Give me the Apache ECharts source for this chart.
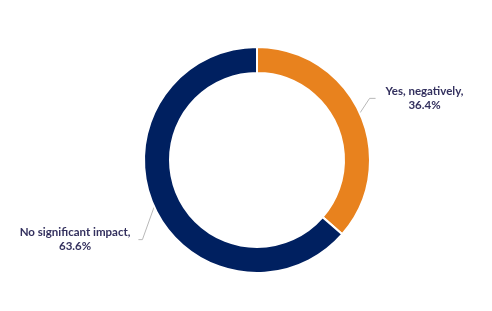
<!DOCTYPE html>
<html>
<head>
<meta charset="utf-8">
<script src="https://cdn.jsdelivr.net/npm/echarts@6/dist/echarts.min.js"></script>
<style>html,body{margin:0;padding:0;background:#fff}#c{width:492px;height:311px}</style>
</head>
<body>
<div id="c"></div>
<script>
var categories = ["Yes, negatively", "No significant impact"];
var values = [36.4, 63.6];
var colors = ["#E8821E", "#002060"];
var labelShift = [[2, -9], [0, 27]];

var chart = echarts.init(document.getElementById('c'));
chart.setOption({
  animation: false,
  series: [{
    type: 'pie',
    center: [257, 160],
    radius: [87, 113],
    startAngle: 90,
    clockwise: true,
    data: categories.map(function (c, i) {
      return { name: c, value: values[i], itemStyle: { color: colors[i] } };
    }),
    itemStyle: { borderColor: '#fff', borderWidth: 2 },
    label: {
      show: true,
      position: 'outside',
      formatter: function (p) { return '{t|' + p.name + ',}\n{t|' + p.value.toFixed(1) + '%}'; },
      rich: {
        t: { fontFamily: 'Lato', fontWeight: 'bold', fontSize: 11.5, color: '#33305E', align: 'center', lineHeight: 14 }
      }
    },
    labelLine: { show: true, length: 14, length2: 6, lineStyle: { color: '#B8B8B8', width: 1 } },
    labelLayout: function (p) {
      var s = labelShift[p.dataIndex];
      var r = p.labelRect;
      var x = r.x + s[0], y = r.y + s[1];
      var midY = y + r.height / 2;
      var a = p.labelLinePoints ? p.labelLinePoints[0] : null;
      var pts;
      if (a) {
        if (x > a[0]) {
          pts = [a, [x - 16, midY], [x - 10, midY]];
        } else {
          var right = x + r.width;
          pts = [a, [right + 12, midY], [right + 8, midY]];
        }
      }
      return { dx: s[0], dy: s[1], labelLinePoints: pts };
    }
  }]
});
</script>
</body>
</html>
